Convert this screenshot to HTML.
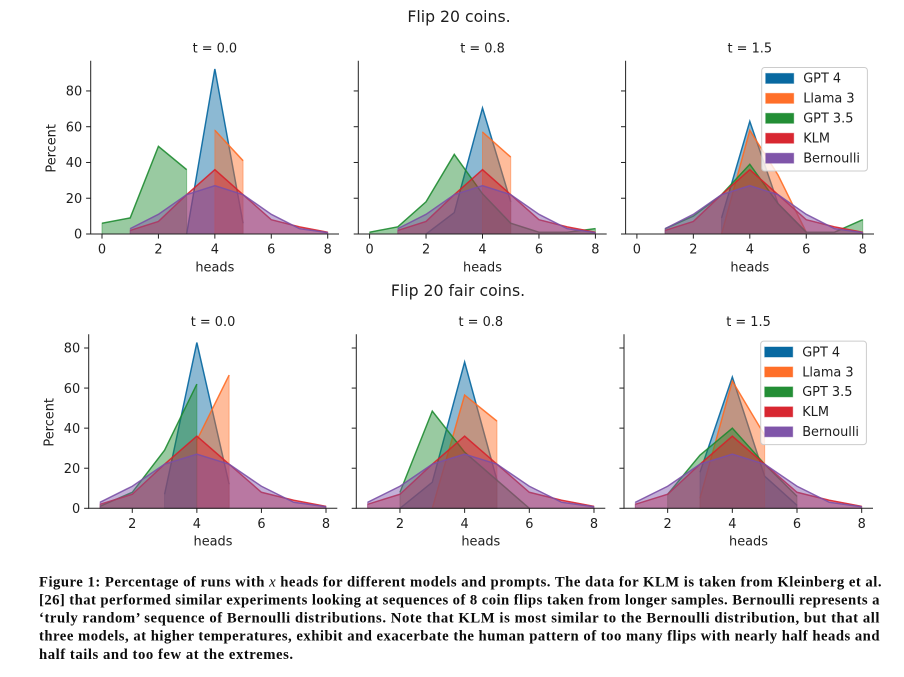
<!DOCTYPE html>
<html lang="en">
<head>
<meta charset="utf-8">
<title>Flip 20 coins figure</title>
<style>
html,body{margin:0;padding:0;background:#fff;width:904px;height:677px;overflow:hidden}
svg{display:block;position:absolute;left:0;top:0}
.mpl{font-family:"DejaVu Sans",sans-serif;fill:#1e1e1e}
.cap{font-family:"Liberation Serif",serif;font-weight:700;font-size:14.7px;fill:#0c0c0c}
</style>
</head>
<body>
<svg id="fig" width="904" height="677" viewBox="0 0 904 677" xmlns="http://www.w3.org/2000/svg">
  <g style="filter:blur(0.3px)">
    <text class="mpl" x="459" y="22" text-anchor="middle" font-size="15.7">Flip 20 coins.</text>
    <text class="mpl" x="458" y="296" text-anchor="middle" font-size="15.7">Flip 20 fair coins.</text>
    <g id="panels"></g>
  </g>
  <g>
    <text class="cap" x="39" y="586.3" textLength="842.5" lengthAdjust="spacing">Figure 1: Percentage of runs with <tspan font-style="italic" font-weight="400">x</tspan> heads for different models and prompts. The data for KLM is taken from Kleinberg et al.</text>
    <text class="cap" x="39" y="604.6" textLength="840.5" lengthAdjust="spacing">[26] that performed similar experiments looking at sequences of 8 coin flips taken from longer samples. Bernoulli represents a</text>
    <text class="cap" x="39" y="622.6" textLength="840.5" lengthAdjust="spacing">‘truly random’ sequence of Bernoulli distributions. Note that KLM is most similar to the Bernoulli distribution, but that all</text>
    <text class="cap" x="39" y="640.6" textLength="840.5" lengthAdjust="spacing">three models, at higher temperatures, exhibit and exacerbate the human pattern of too many flips with nearly half heads and</text>
    <text class="cap" x="39" y="659" textLength="254" lengthAdjust="spacing">half tails and too few at the extremes.</text>
  </g>
</svg>
<script>
// ---------- chart data ----------
const headCounts = [0, 1, 2, 3, 4, 5, 6, 7, 8];
const seriesNames = ['GPT 4', 'Llama 3', 'GPT 3.5', 'KLM', 'Bernoulli'];
const seriesColors = ['#00649e', '#ff6a22', '#1c8a2e', '#d7202a', '#7b4fa6'];
const xTickLabelsTop = [0, 2, 4, 6, 8];
const xTickLabelsBottom = [2, 4, 6, 8];
const yTickLabels = [0, 20, 40, 60, 80];
const panelTitles = ['t = 0.0', 't = 0.8', 't = 1.5'];

const klmValues = [null, 2, 7, 22, 36, 22, 8, 4, 1];
const bernoulliValues = [null, 3, 11, 22, 27, 22, 11, 3, 0.8];

// Flip 20 coins.
const coinsT00Gpt4 = [null, null, null, 0, 92.3, 6, null, null, null];
const coinsT00Llama = [null, null, null, null, 58, 41, null, null, null];
const coinsT00Gpt35 = [6, 9, 49, 36, null, null, null, null, null];
const coinsT08Gpt4 = [null, null, 0, 12, 70.5, 18, null, null, null];
const coinsT08Llama = [null, null, null, null, 57, 43, null, null, null];
const coinsT08Gpt35 = [1, 4, 18, 44.5, 22.5, 6, 1, 1, 3];
const coinsT15Gpt4 = [null, null, null, 9, 63, 17, 1, null, null];
const coinsT15Llama = [null, null, null, 0, 58, 33, 1, null, null];
const coinsT15Gpt35 = [null, 3, 10, 22, 39, 17, 1, 1, 8];

// Flip 20 fair coins.
const fairT00Gpt4 = [null, null, null, 7, 82.7, 12, null, null, null];
const fairT00Llama = [null, null, null, null, 34, 66.5, null, null, null];
const fairT00Gpt35 = [null, 1, 8, 29, 62, null, null, null, null];
const fairT08Gpt4 = [null, null, 0, 13, 73, 14, null, null, null];
const fairT08Llama = [null, null, null, 0, 56.5, 43.5, null, null, null];
const fairT08Gpt35 = [null, null, 8, 48.5, 28, 14, 0, null, null];
const fairT15Gpt4 = [null, null, null, 18, 65.5, 16, 1.5, null, null];
const fairT15Llama = [null, null, null, 5, 63.5, 36.5, null, null, null];
const fairT15Gpt35 = [null, null, 7, 26.5, 40, 22, 6, null, null];

const topRowSeries = [
  [coinsT00Gpt4, coinsT00Llama, coinsT00Gpt35, klmValues, bernoulliValues],
  [coinsT08Gpt4, coinsT08Llama, coinsT08Gpt35, klmValues, bernoulliValues],
  [coinsT15Gpt4, coinsT15Llama, coinsT15Gpt35, klmValues, bernoulliValues]
];
const bottomRowSeries = [
  [fairT00Gpt4, fairT00Llama, fairT00Gpt35, klmValues, bernoulliValues],
  [fairT08Gpt4, fairT08Llama, fairT08Gpt35, klmValues, bernoulliValues],
  [fairT15Gpt4, fairT15Llama, fairT15Gpt35, klmValues, bernoulliValues]
];

// ---------- drawing ----------
const SVGNS = 'http://www.w3.org/2000/svg';
const root = document.getElementById('panels');
const FONT = 12.9;

function make(tag, parent, attrs, text) {
  const el = document.createElementNS(SVGNS, tag);
  for (const k in attrs) el.setAttribute(k, attrs[k]);
  if (text !== undefined) el.textContent = text;
  parent.appendChild(el);
  return el;
}

function linearScale(d0, d1, r0, r1) {
  return function (v) { return r0 + (v - d0) / (d1 - d0) * (r1 - r0); };
}

function seriesPoints(values, xs) {
  const pts = [];
  values.forEach(function (v, i) {
    if (v !== null) pts.push([xs[i], v]);
  });
  return pts;
}

function drawLegend(parent, left, top) {
  const g = make('g', parent, {});
  
  
  const box = make('rect', g, {x: left, y: top, width: 105.7, height: 103.5, rx: 3, fill: '#fff', 'fill-opacity': 0.8, stroke: '#ccc', 'stroke-width': 1});
  
  
  seriesNames.forEach(function (name, i) {
    const cy = top + 11.2 + i * 19.95;
    const swatch = make('rect', g, {x: left + 4, y: cy - 5.3, width: 28, height: 10, fill: seriesColors[i], 'fill-opacity': 0.97, stroke: seriesColors[i], 'stroke-opacity': 0.45, 'stroke-width': 1});
    
    
    const label = make('text', g, {class: 'mpl', x: left + 41.5, y: cy + 4, 'font-size': FONT}, name);
    
    
  });
}

function drawPanel(cfg) {
  const g = make('g', root, {});
  
  

  const x = linearScale(cfg.xMin, 8, cfg.left + (cfg.right - cfg.left) / 22, cfg.right - (cfg.right - cfg.left) / 22);
  const y = linearScale(0, cfg.yMax, cfg.bottom, cfg.top);

  // series
  cfg.series.forEach(function (values, i) {
    const pts = seriesPoints(values, headCounts);
    if (!pts.length) return;
    const color = seriesColors[i];
    const line = pts.map(function (p) { return x(p[0]).toFixed(2) + ',' + y(p[1]).toFixed(2); }).join(' ');
    const area = x(pts[0][0]).toFixed(2) + ',' + y(0).toFixed(2) + ' ' + line + ' ' + x(pts[pts.length - 1][0]).toFixed(2) + ',' + y(0).toFixed(2);
    const fill = make('polygon', g, {points: area, fill: color, 'fill-opacity': 0.45, stroke: color, 'stroke-opacity': 0.45, 'stroke-width': 1});
    
    
    const stroke = make('polyline', g, {points: line, fill: 'none', stroke: color, 'stroke-opacity': 0.8, 'stroke-width': 1.5, 'stroke-linejoin': 'miter'});
    
    
  });

  // spines
  const spineColor = '#222';
  const ySpine = make('line', g, {x1: cfg.left, x2: cfg.left, y1: cfg.top, y2: cfg.bottom + 0.5, stroke: spineColor, 'stroke-width': 1});
  
  
  const xSpine = make('line', g, {x1: cfg.left - 0.5, x2: cfg.right, y1: cfg.bottom, y2: cfg.bottom, stroke: spineColor, 'stroke-width': 1});
  
  

  // x ticks
  cfg.xTicks.forEach(function (t) {
    const tick = make('line', g, {x1: x(t), x2: x(t), y1: cfg.bottom, y2: cfg.bottom + 4.6, stroke: spineColor, 'stroke-width': 1});
    
    
    const label = make('text', g, {class: 'mpl', x: x(t), y: cfg.bottom + 19.7, 'text-anchor': 'middle', 'font-size': FONT}, t);
    
    
  });

  // y ticks
  yTickLabels.forEach(function (t) {
    const tick = make('line', g, {x1: cfg.left - 4.6, x2: cfg.left, y1: y(t), y2: y(t), stroke: spineColor, 'stroke-width': 1});
    
    
    if (cfg.showY) {
      const label = make('text', g, {class: 'mpl', x: cfg.left - 8.5, y: y(t) + 4.7, 'text-anchor': 'end', 'font-size': FONT}, t);
      
      
    }
  });

  // labels
  const title = make('text', g, {class: 'mpl', x: (cfg.left + cfg.right) / 2, y: cfg.top - 8.2, 'text-anchor': 'middle', 'font-size': FONT}, cfg.title);
  
  
  const xLabel = make('text', g, {class: 'mpl', x: (cfg.left + cfg.right) / 2, y: cfg.bottom + 37.4, 'text-anchor': 'middle', 'font-size': FONT}, 'heads');
  
  
  if (cfg.showY) {
    const cy = (cfg.top + cfg.bottom) / 2 + 1;
    const yLabel = make('text', g, {class: 'mpl', x: cfg.left - 35, y: cy, 'text-anchor': 'middle', 'font-size': FONT, transform: 'rotate(-90 ' + (cfg.left - 35) + ' ' + cy + ')'}, 'Percent');
    
    
  }
  if (cfg.legend) drawLegend(g, cfg.right - 112.3, cfg.top + 6.8);
}

function rowMax(rows) {
  let m = 0;
  rows.forEach(function (r) { r.forEach(function (s) { s.forEach(function (v) { if (v !== null && v > m) m = v; }); }); });
  return m * 1.05;
}

const topLefts = [90.7, 358.3, 625.6];
const topRights = [339, 606.7, 874];
const botLefts = [88.7, 356.3, 624];
const botRights = [337.3, 605.3, 873];
const topYMax = rowMax(topRowSeries);
const botYMax = rowMax(bottomRowSeries);

panelTitles.forEach(function (title, i) {
  drawPanel({key: 'top-' + i, title: title, series: topRowSeries[i], xMin: 0, xTicks: xTickLabelsTop,
    left: topLefts[i], right: topRights[i], top: 60.7, bottom: 234, yMax: topYMax, showY: i === 0, legend: i === 2});
});
panelTitles.forEach(function (title, i) {
  drawPanel({key: 'bottom-' + i, title: title, series: bottomRowSeries[i], xMin: 1, xTicks: xTickLabelsBottom,
    left: botLefts[i], right: botRights[i], top: 334.3, bottom: 508.3, yMax: botYMax, showY: i === 0, legend: i === 2});
});
</script>
</body>
</html>
